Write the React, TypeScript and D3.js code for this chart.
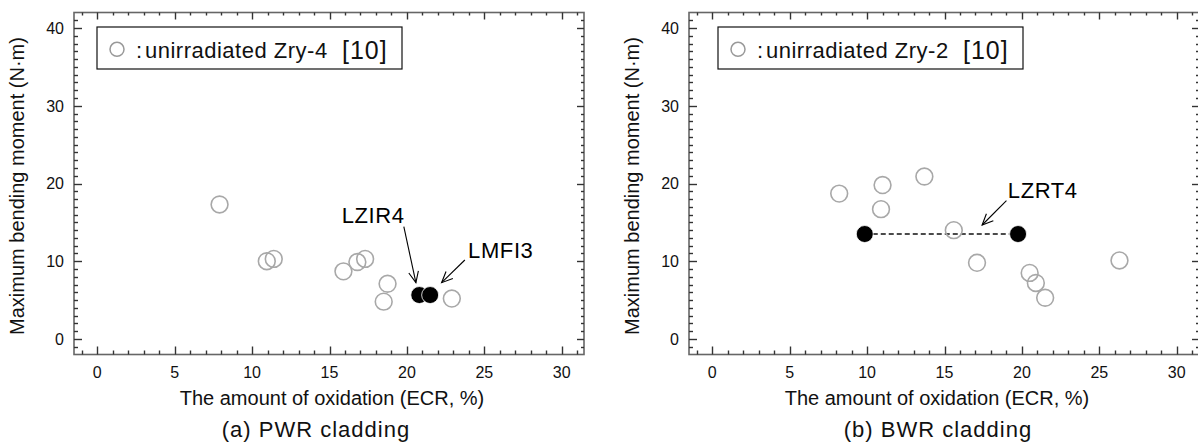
import React from "react";
import { scaleLinear, range } from "d3";

// PWR cladding (a)
const pwrOpenX = [7.9, 10.95, 11.4, 15.9, 16.8, 17.3, 18.75, 18.5, 22.9];
const pwrOpenY = [17.3, 10.0, 10.3, 8.7, 9.9, 10.3, 7.1, 4.8, 5.2];
const pwrFilledX = [20.8, 21.5];
const pwrFilledY = [5.65, 5.65];

// BWR cladding (b)
const bwrOpenX = [8.2, 11.0, 10.9, 13.7, 15.6, 17.1, 20.5, 20.9, 21.5, 26.3];
const bwrOpenY = [18.7, 19.8, 16.7, 20.9, 14.0, 9.8, 8.5, 7.2, 5.3, 10.1];
const bwrFilledX = [9.85, 19.75];
const bwrFilledY = [13.5, 13.5];

const xTicks = [0, 5, 10, 15, 20, 25, 30];
const yTicks = [0, 10, 20, 30, 40];

const xLabel = "The amount of oxidation (ECR, %)";
const yLabel = "Maximum bending moment (N·m)";

const FONT = "'Liberation Sans', Arial, sans-serif";
const TOP = 12.5;
const BOTTOM = 354.5;

const panels = [
  {
    left: 74, right: 585, caption: "(a) PWR cladding", capX: 316, xLabX: 332,
    legend: "unirradiated Zry-4", legendBox: 97,
    openX: pwrOpenX, openY: pwrOpenY, fillX: pwrFilledX, fillY: pwrFilledY, dashed: false,
    notes: [
      { text: "LZIR4", tx: 15.79, ty: 14.88, x1: 19.8, y1: 14.44, x2: 20.58, y2: 7.24 },
      { text: "LMFI3", tx: 23.95, ty: 10.46, x1: 23.74, y1: 10.16, x2: 22.24, y2: 7.24 },
    ],
  },
  {
    left: 689, right: 1200, caption: "(b) BWR cladding", capX: 938, xLabX: 937,
    legend: "unirradiated Zry-2", legendBox: 718,
    openX: bwrOpenX, openY: bwrOpenY, fillX: bwrFilledX, fillY: bwrFilledY, dashed: true,
    notes: [
      { text: "LZRT4", tx: 19.09, ty: 18.13, x1: 19.0, y1: 17.79, x2: 17.43, y2: 14.66 },
    ],
  },
];

const y = scaleLinear().domain([-2, 42]).range([BOTTOM, TOP]);
const xMinor = range(-1, 32).filter((d) => d % 5 !== 0);
const yMinor = range(-1, 42).filter((d) => d % 10 !== 0);

function Panel({ p }) {
  const x = scaleLinear().domain([-1.5, 31.5]).range([p.left, p.right]);
  const xr = p.right - 1;
  const lb = p.legendBox;
  const xTickSet = xTicks.map((v) => ({ v, len: 8 })).concat(xMinor.map((v) => ({ v, len: 4 })));
  const yTickSet = yTicks.map((v) => ({ v, len: 8 })).concat(yMinor.map((v) => ({ v, len: 4 })));
  const txt = { fontFamily: FONT, fill: "#111" };
  const tk = { stroke: "#333", strokeWidth: 1.4 };

  return (
    <g>
      <rect x={p.left} y={TOP} width={xr - p.left} height={BOTTOM - TOP}
        fill="none" stroke="#666" strokeWidth={1.6} />

      {/* inward ticks on all four sides */}
      {xTickSet.map((d) => {
        const px = Math.round(x(d.v)) + 0.5;
        return (
          <g key={"x" + d.v}>
            <line x1={px} x2={px} y1={BOTTOM} y2={BOTTOM - d.len} {...tk} />
            <line x1={px} x2={px} y1={TOP} y2={TOP + d.len - 1} {...tk} />
          </g>
        );
      })}
      {yTickSet.map((d) => {
        const py = Math.round(y(d.v)) + 0.5;
        return (
          <g key={"y" + d.v}>
            <line x1={p.left} x2={p.left + d.len} y1={py} y2={py} {...tk} />
            <line x1={xr} x2={xr - d.len + 1} y1={py} y2={py} {...tk} />
          </g>
        );
      })}

      {xTicks.map((v) => (
        <text key={"xl" + v} x={x(v)} y={BOTTOM + 23.5} textAnchor="middle" fontSize={16} {...txt}>{v}</text>
      ))}
      {yTicks.map((v) => (
        <text key={"yl" + v} x={p.left - 10} y={y(v)} dy="0.36em" textAnchor="end" fontSize={16} {...txt}>{v}</text>
      ))}

      <text x={p.xLabX} y={405} textAnchor="middle" fontSize={20} {...txt}>{xLabel}</text>
      <text transform={`translate(${p.left - 50},186) rotate(-90)`} textAnchor="middle" fontSize={20} {...txt}>{yLabel}</text>
      <text x={p.capX} y={437} textAnchor="middle" fontSize={22} letterSpacing={1} {...txt}>{p.caption}</text>

      {/* legend */}
      <rect x={lb} y={27} width={305} height={42} fill="white" stroke="#111" strokeWidth={1.2} />
      <circle cx={lb + 20} cy={49.3} r={7} fill="none" stroke="#999" strokeWidth={1.5} />
      <text x={lb + 39} y={57.5} fontSize={22} {...txt}>:</text>
      <text x={lb + 48} y={57.5} fontSize={22} letterSpacing={0.5} {...txt}>{p.legend}</text>
      <text x={lb + 245} y={58.5} fontSize={25} letterSpacing={1} {...txt}>[10]</text>

      {p.dashed && (
        <line x1={x(p.fillX[0])} y1={y(p.fillY[0])} x2={x(p.fillX[1])} y2={y(p.fillY[1])}
          stroke="#111" strokeWidth={1.3} strokeDasharray="5,3" />
      )}

      {p.openX.map((d, i) => (
        <circle key={"o" + i} cx={x(d)} cy={y(p.openY[i])} r={8.4}
          fill="none" stroke="#a8a8a8" strokeWidth={1.6} />
      ))}
      {p.fillX.map((d, i) => (
        <circle key={"f" + i} cx={x(d)} cy={y(p.fillY[i])} r={8.5}
          fill="#000" stroke="#fff" strokeWidth={0.8} />
      ))}

      {p.notes.map((n) => {
        const ax1 = x(n.x1), ay1 = y(n.y1), ax2 = x(n.x2), ay2 = y(n.y2);
        const ang = Math.atan2(ay1 - ay2, ax1 - ax2);
        const len = 12, spread = 0.42;
        const pts = [ang - spread, ang + spread].map((a) => [ax2 + len * Math.cos(a), ay2 + len * Math.sin(a)]);
        return (
          <g key={n.text}>
            <text x={x(n.tx)} y={y(n.ty)} fontSize={22} letterSpacing={0.6} fontFamily={FONT} fill="#000">{n.text}</text>
            <line x1={ax1} y1={ay1} x2={ax2} y2={ay2} stroke="#000" strokeWidth={1.1} />
            <path d={`M${pts[0][0]},${pts[0][1]}L${ax2},${ay2}L${pts[1][0]},${pts[1][1]}`}
              fill="none" stroke="#000" strokeWidth={1.1} />
          </g>
        );
      })}
    </g>
  );
}

function App() {
  return (
    <svg width={1198} height={445} style={{ position: "absolute", left: 0, top: 0, background: "white" }}>
      {panels.map((p) => (
        <Panel key={p.caption} p={p} />
      ))}
    </svg>
  );
}

export default App;
